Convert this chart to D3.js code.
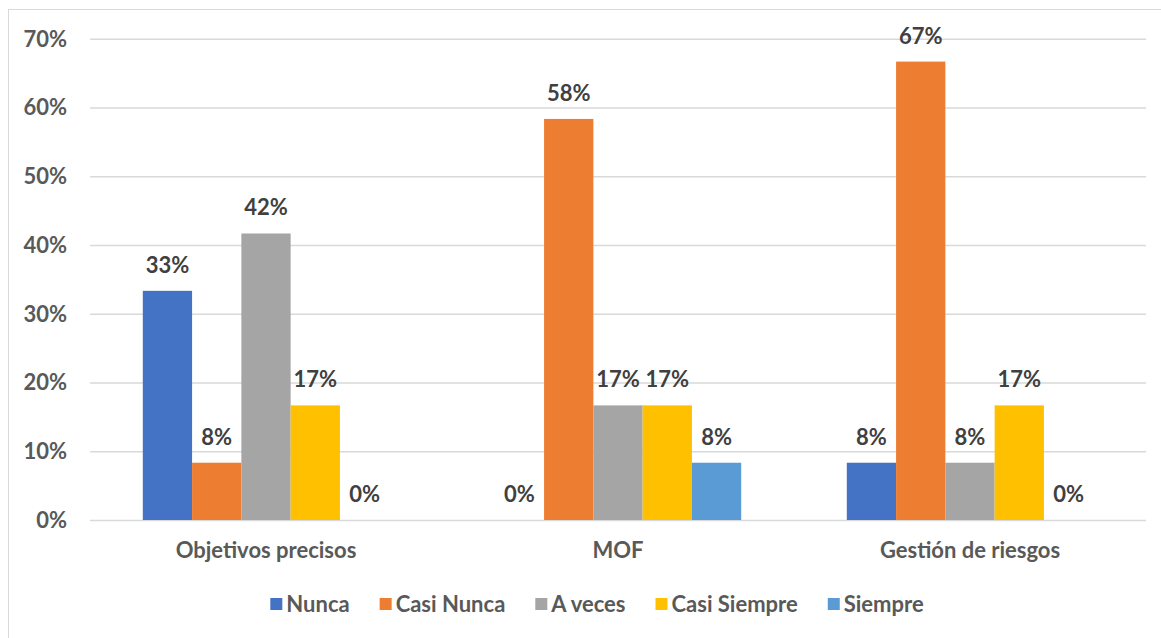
<!DOCTYPE html>
<html><head><meta charset="utf-8">
<script src="https://cdn.jsdelivr.net/npm/d3@7"></script>
<style>html,body{margin:0;padding:0;background:#fff;}svg{display:block;}</style>
</head><body>
<svg id="chart" width="1161" height="638"></svg>
<script>
const categories = ["Objetivos precisos", "MOF", "Gestión de riesgos"];
const seriesNames = ["Nunca", "Casi Nunca", "A veces", "Casi Siempre", "Siempre"];
const seriesColors = ["#4472C4", "#ED7D31", "#A5A5A5", "#FFC000", "#5B9BD5"];
const nunca = [33.33, 0, 8.33];
const casiNunca = [8.33, 58.33, 66.67];
const aVeces = [41.67, 16.67, 8.33];
const casiSiempre = [16.67, 16.67, 16.67];
const siempre = [0, 8.33, 0];
const yTicks = [0, 10, 20, 30, 40, 50, 60, 70];
const seriesValues = [nunca, casiNunca, aVeces, casiSiempre, siempre];

(function () {
const font = "Lato, 'Open Sans', sans-serif";
const fs = 22;
const svg = d3.select("#chart");
const mLeft = 90, mRight = 1146, mTop = 38.7, mBottom = 520;

svg.append("rect").attr("x", 8.5).attr("y", 9.5).attr("width", 1170).attr("height", 650)
  .attr("fill", "none").attr("stroke", "#D9D9D9").attr("stroke-width", 1);

const x0 = d3.scaleBand().domain(categories).range([mLeft, mRight]).paddingInner(0).paddingOuter(0);
const bandW = x0.bandwidth();
const x1 = d3.scaleBand().domain(seriesNames).range([bandW * 0.15, bandW * 0.85]).padding(0);
const y = d3.scaleLinear().domain([0, 70]).range([mBottom, mTop]);

const yAxis = d3.axisLeft(y).tickValues(yTicks).tickFormat(d => d + "%").tickSize(-(mRight - mLeft)).tickPadding(23);
const ga = svg.append("g").attr("transform", `translate(${mLeft},0)`).call(yAxis);
ga.select(".domain").remove();
ga.selectAll(".tick line").attr("stroke", "#D9D9D9").attr("stroke-width", 1.5);
ga.selectAll(".tick text").attr("fill", "#595959").attr("font-family", font)
  .attr("font-weight", "bold").attr("font-size", fs).attr("dy", "0.34em");

const flat = [];
categories.forEach((c, ci) => seriesNames.forEach((s, si) => flat.push({c, s, si, v: seriesValues[si][ci]})));

svg.append("g").selectAll("rect").data(flat).join("rect")
  .attr("x", d => x0(d.c) + x1(d.s))
  .attr("width", x1.bandwidth())
  .attr("y", d => y(d.v))
  .attr("height", d => y(0) - y(d.v))
  .attr("fill", d => seriesColors[d.si]);

svg.append("g").selectAll("text").data(flat).join("text")
  .attr("x", d => x0(d.c) + x1(d.s) + x1.bandwidth() / 2)
  .attr("y", d => y(d.v) - 18)
  .attr("text-anchor", "middle")
  .attr("font-family", font).attr("font-weight", "bold").attr("font-size", fs)
  .attr("fill", "#404040")
  .text(d => Math.round(d.v) + "%");

const xAxis = d3.axisBottom(x0).tickSize(0).tickPadding(0);
const gx = svg.append("g").attr("transform", `translate(0,${mBottom})`).call(xAxis);
gx.select(".domain").remove();
gx.selectAll(".tick text").attr("fill", "#595959").attr("font-family", font)
  .attr("font-weight", "bold").attr("font-size", fs).attr("y", 38).attr("dy", 0);

const leg = svg.append("g");
let cx = 0;
seriesNames.forEach((s, i) => {
  const g = leg.append("g");
  g.append("rect").attr("x", 0).attr("y", -6).attr("width", 12).attr("height", 12).attr("fill", seriesColors[i]);
  const t = g.append("text").attr("x", 16).attr("y", 0).attr("dy", "0.35em")
    .attr("font-family", font).attr("font-weight", "bold").attr("font-size", fs)
    .attr("fill", "#595959").text(s);
  const w = 16 + t.node().getComputedTextLength();
  g.attr("transform", `translate(${cx},0)`);
  cx += w + 30;
});
const totalW = cx - 30;
leg.attr("transform", `translate(${597 - totalW / 2},604)`);
})();
</script>
</body></html>
